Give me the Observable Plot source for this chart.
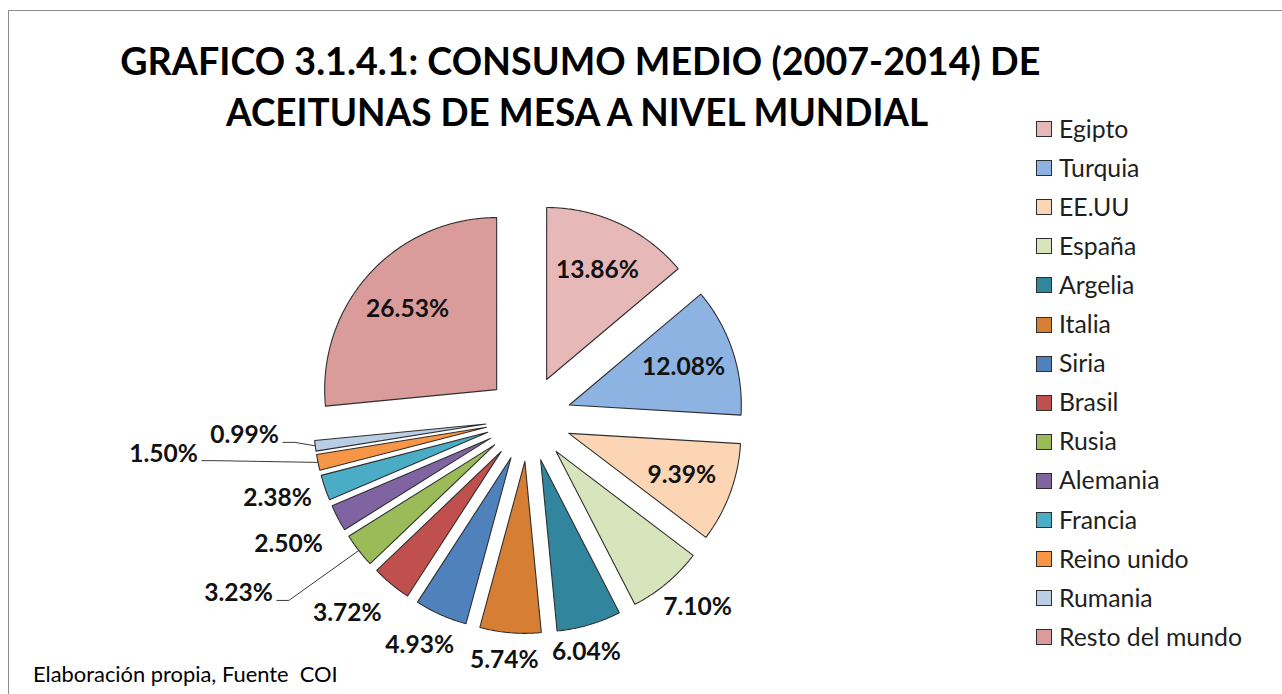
<!DOCTYPE html>
<html>
<head>
<meta charset="utf-8">
<script src="https://cdn.jsdelivr.net/npm/d3@7"></script>
<script src="https://cdn.jsdelivr.net/npm/@observablehq/plot@0.6"></script>
<style>
  html, body { margin: 0; padding: 0; background: #fff; }
  #wrap { position: relative; width: 1282px; height: 694px; overflow: hidden; background: #fff; font-family: Lato, "Open Sans", sans-serif; }
  #wrap svg { position: absolute; left: 0; top: 0; background: transparent !important; }
  #frame { position: absolute; left: 8px; top: 10px; width: 1300px; height: 720px; border: 1.5px solid #8c8c8c; pointer-events: none; }
  .title { position: absolute; white-space: nowrap; font-weight: 700; color: #000; line-height: 1; transform-origin: 50% 50%; }
  .li { position: absolute; display: flex; align-items: center; white-space: nowrap; color: #1f1f1f; line-height: 1; }
  .sw { box-sizing: border-box; width: 16px; height: 16px; border: 1.3px solid #2e2e2e; margin-right: 7px; }
  #caption { position: absolute; white-space: pre; color: #000; line-height: 1; }
</style>
</head>
<body>
<div id="wrap"><div id="frame"></div></div>
<script>
// ---------------- data ----------------
const countries = ["Egipto", "Turquia", "EE.UU", "España", "Argelia", "Italia", "Siria", "Brasil", "Rusia", "Alemania", "Francia", "Reino unido", "Rumania", "Resto del mundo"];
const shares = [13.86, 12.08, 9.39, 7.10, 6.04, 5.74, 4.93, 3.72, 3.23, 2.50, 2.38, 1.50, 0.99, 26.53];
const sliceColors = ["#E6B8B7", "#8DB3E2", "#FCD5B4", "#D7E4BC", "#31859C", "#D67F34", "#4F81BD", "#C0504D", "#9BBB59", "#8064A2", "#4BACC6", "#F79646", "#B9CDE5", "#D99C9B"];
const titleLines = ["GRAFICO 3.1.4.1: CONSUMO MEDIO (2007-2014) DE", "ACEITUNAS DE MESA A NIVEL MUNDIAL"];
const captionText = "Elaboración propia, Fuente  COI";

// ---------------- layout ----------------
const layout = {
  cx: 528, cy: 418, R: 172,          // pie centre and radius (px)
  explode: 0.25,                     // explosion distance (radius units)
  insideMin: 9, insideDist: 0.95, outsidePad: 0.08,
  // Excel "best fit" label placements: [degrees clockwise from 12 o'clock, distance in radius units]
  manual: {
    "España": [138.2, 1.474], "Argelia": [166.1, 1.402], "Italia": [185.7, 1.414], "Siria": [205.6, 1.464],
    "Brasil": [222.9, 1.547], "Alemania": [242.3, 1.576], "Francia": [252.5, 1.530],
    "Rusia": [238.9, 1.969], "Reino unido": [264.5, 2.132], "Rumania": [266.6, 1.654]
  },
  leaders: ["Rusia", "Reino unido", "Rumania"],
  titleCenterX: 580, titleCapY: [62, 113], titleWidth: [920, 707], titleCap: 27,
  legendX: 1036, legendTop: 129, legendStep: 39.1, legendTextWidth: 183,
  captionX: 33, captionCapY: 675, captionWidth: 305,
  labelWidth: 83
};

const W = 1282, H = 694;
const ctx = document.createElement("canvas").getContext("2d");
function textW(t, font) { ctx.font = font; return ctx.measureText(t).width; }
function fitSize(t, weight, target) { return target / textW(t, `${weight} 100px Lato`) * 100; }

const U = layout.R;
const labelSize = fitSize("13.86%", "bold", layout.labelWidth);
const labelFont = `bold ${labelSize}px Lato`;

const rows = countries.map((name, i) => ({ name, share: shares[i], label: shares[i].toFixed(2) + "%" }));
const arcs = d3.pie().sort(null).value(d => d.share)(rows);

const slicePts = [], labelRows = [], leaderPts = [];
arcs.forEach(a => {
  const name = a.data.name;
  const m = (a.startAngle + a.endAngle) / 2;
  const ax = layout.explode * Math.sin(m), ay = layout.explode * Math.cos(m);
  slicePts.push({ name, x: ax, y: ay });
  const n = Math.max(6, Math.ceil((a.endAngle - a.startAngle) / 0.01));
  for (let k = 0; k <= n; k++) {
    const t = a.startAngle + (a.endAngle - a.startAngle) * k / n;
    slicePts.push({ name, x: ax + Math.sin(t), y: ay + Math.cos(t) });
  }
  slicePts.push({ name, x: ax, y: ay });

  const w = textW(a.data.label, labelFont) / U;
  const h = 18 / U;
  let th = m, d;
  const man = layout.manual[name];
  if (man) { th = man[0] * Math.PI / 180; d = man[1]; }
  else if (a.data.share >= layout.insideMin) d = layout.insideDist;
  else d = 1 + layout.explode + layout.outsidePad + Math.abs(Math.sin(m)) * w / 2 + Math.abs(Math.cos(m)) * h / 2;
  const lx = d * Math.sin(th), ly = d * Math.cos(th);
  labelRows.push({ name, label: a.data.label, x: lx, y: ly });
  if (layout.leaders.includes(name)) {
    const sx = lx + w / 2 + 4 / U, sy = ly - 7 / U;
    leaderPts.push({ name, x: sx, y: sy });
    leaderPts.push({ name, x: sx + 12 / U, y: sy });
    leaderPts.push({ name, x: ax + Math.sin(m), y: ay + Math.cos(m) });
  }
});

const chart = Plot.plot({
  width: W, height: H, margin: 0,
  style: { background: "transparent", overflow: "visible" },
  x: { domain: [-layout.cx / U, (W - layout.cx) / U], axis: null },
  y: { domain: [(layout.cy - H) / U, layout.cy / U], axis: null },
  color: { type: "ordinal", domain: countries, range: sliceColors },
  marks: [
    Plot.line(slicePts, { x: "x", y: "y", z: "name", fill: "name", stroke: "#2f2f2f", strokeWidth: 1.1, curve: "linear", strokeLinejoin: "miter" }),
    Plot.line(leaderPts, { x: "x", y: "y", z: "name", stroke: "#3a3a3a", strokeWidth: 1, curve: "linear" }),
    Plot.text(labelRows, { x: "x", y: "y", text: "label", fontSize: labelSize, fontWeight: "bold", fontFamily: "Lato", fill: "#111", textAnchor: "middle", lineAnchor: "middle" })
  ]
});
const wrap = document.getElementById("wrap");
wrap.insertBefore(chart, wrap.firstChild);

// title: Lato bold sized to the reference cap height, condensed to the reference width
const tSize = layout.titleCap / 0.7165;
titleLines.forEach((t, i) => {
  const el = document.createElement("div");
  el.className = "title";
  el.textContent = t;
  el.style.fontSize = tSize + "px";
  const natural = textW(t, `bold ${tSize}px Lato`);
  const s = layout.titleWidth[i] / natural;
  el.style.left = (layout.titleCenterX - natural / 2) + "px";
  el.style.width = natural + "px";
  el.style.transform = `scaleX(${s})`;
  el.style.top = (layout.titleCapY[i] - 0.53 * tSize) + "px";
  wrap.appendChild(el);
});

// legend
const lSize = fitSize("Resto del mundo", "normal", layout.legendTextWidth);
countries.forEach((name, i) => {
  const el = document.createElement("div");
  el.className = "li";
  el.style.left = layout.legendX + "px";
  el.style.top = (layout.legendTop + i * layout.legendStep - 15) + "px";
  el.style.height = "30px";
  el.style.fontSize = lSize + "px";
  const sw = document.createElement("span");
  sw.className = "sw";
  sw.style.background = sliceColors[i];
  const tx = document.createElement("span");
  tx.textContent = name;
  el.appendChild(sw); el.appendChild(tx);
  wrap.appendChild(el);
});

// caption
const cSize = fitSize(captionText, "normal", layout.captionWidth);
const cap = document.createElement("div");
cap.id = "caption";
cap.textContent = captionText;
cap.style.fontSize = cSize + "px";
cap.style.left = layout.captionX + "px";
cap.style.top = (layout.captionCapY - 0.53 * cSize) + "px";
wrap.appendChild(cap);
</script>
</body>
</html>
